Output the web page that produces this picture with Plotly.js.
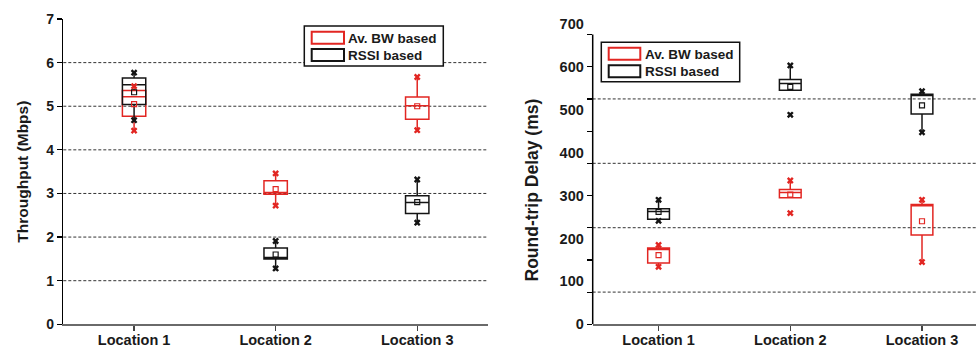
<!DOCTYPE html>
<html>
<head>
<meta charset="utf-8">
<script src="https://cdn.plot.ly/plotly-3.0.1.min.js"></script>
<style>html,body{margin:0;padding:0;background:#fff;}#chart{width:976px;height:349px;}</style>
</head>
<body>
<div id="chart"></div>
<script>
// ---------- data ----------
const categories = ['Location 1', 'Location 2', 'Location 3'];
const seriesNames = ['Av. BW based', 'RSSI based'];

// Throughput (Mbps) - Av. BW based
const thrBwMin  = [4.44, 2.72, 4.45];
const thrBwQ1   = [4.77, 2.98, 4.70];
const thrBwMed  = [5.22, 3.02, 5.01];
const thrBwQ3   = [5.36, 3.29, 5.21];
const thrBwMax  = [5.46, 3.46, 5.67];
const thrBwMean = [5.05, 3.10, 5.00];
const thrBwWLo  = [4.44, 2.72, 4.45];
const thrBwWHi  = [5.46, 3.46, 5.67];

// Throughput (Mbps) - RSSI based
const thrRsMin  = [4.68, 1.28, 2.33];
const thrRsQ1   = [5.04, 1.50, 2.54];
const thrRsMed  = [5.49, 1.53, 2.79];
const thrRsQ3   = [5.65, 1.75, 2.95];
const thrRsMax  = [5.77, 1.91, 3.32];
const thrRsMean = [5.32, 1.60, 2.80];
const thrRsWLo  = [4.68, 1.28, 2.33];
const thrRsWHi  = [5.77, 1.91, 3.32];

// Round-trip delay (ms) - Av. BW based
const rttBwMin  = [134, 259, 145];
const rttBwQ1   = [143, 295, 208];
const rttBwMed  = [174, 307, 276];
const rttBwQ3   = [178, 314, 279];
const rttBwMax  = [185, 335, 290];
const rttBwMean = [161, 302, 240];
const rttBwWLo  = [134, 295, 145];
const rttBwWHi  = [185, 335, 290];

// Round-trip delay (ms) - RSSI based
const rttRsMin  = [241, 488, 447];
const rttRsQ1   = [245, 545, 490];
const rttRsMed  = [263, 561, 533];
const rttRsQ3   = [269, 570, 536];
const rttRsMax  = [290, 603, 543];
const rttRsMean = [262, 553, 510];
const rttRsWLo  = [241, 545, 447];
const rttRsWHi  = [290, 603, 543];

// axis ticks / grid
const thrTickVals = [0, 1, 2, 3, 4, 5, 6, 7];
const thrGridVals = [1, 2, 3, 4, 5, 6];
const rttTickLabels = [0, 100, 200, 300, 400, 500, 600, 700];
const rttTickMarks = [0, 75, 150, 225, 300, 375, 450, 525, 600, 675];
const rttGridVals = [75, 225, 375, 525];

// ---------- styling ----------
const W = 976, H = 349;
const px = v => v / W;
const py = v => (H - v) / H;
const RED = 'rgb(226,38,34)';
const BLK = '#141414';
const FONT = 'Liberation Sans, Arial, Helvetica, sans-serif';

function series(xa, ya, color, d) {
  return [
    {
      type: 'box', x: categories, q1: d.q1, median: d.med, q3: d.q3,
      lowerfence: d.wlo, upperfence: d.whi,
      xaxis: xa, yaxis: ya, boxpoints: false, width: 0.165, whiskerwidth: 0,
      line: {color: color, width: 1.5}, fillcolor: 'rgba(0,0,0,0)',
      showlegend: false, hoverinfo: 'skip'
    },
    {
      type: 'scatter', mode: 'markers', x: categories, y: d.mean,
      xaxis: xa, yaxis: ya, showlegend: false, hoverinfo: 'skip',
      marker: {symbol: 'square-open', size: 5, color: color, line: {width: 1.2, color: color}}
    },
    {
      type: 'scatter', mode: 'markers', x: categories.concat(categories), y: d.min.concat(d.max),
      xaxis: xa, yaxis: ya, showlegend: false, hoverinfo: 'skip',
      marker: {symbol: 'x', size: 6, color: color, line: {width: 0}}
    }
  ];
}

const traces = [].concat(
  series('x', 'y', RED, {q1: thrBwQ1, med: thrBwMed, q3: thrBwQ3, wlo: thrBwWLo, whi: thrBwWHi, mean: thrBwMean, min: thrBwMin, max: thrBwMax}),
  series('x', 'y', BLK, {q1: thrRsQ1, med: thrRsMed, q3: thrRsQ3, wlo: thrRsWLo, whi: thrRsWHi, mean: thrRsMean, min: thrRsMin, max: thrRsMax}),
  series('x2', 'y2', RED, {q1: rttBwQ1, med: rttBwMed, q3: rttBwQ3, wlo: rttBwWLo, whi: rttBwWHi, mean: rttBwMean, min: rttBwMin, max: rttBwMax}),
  series('x2', 'y2', BLK, {q1: rttRsQ1, med: rttRsMed, q3: rttRsQ3, wlo: rttRsWLo, whi: rttRsWHi, mean: rttRsMean, min: rttRsMin, max: rttRsMax}),
  [{type: 'scatter', mode: 'markers', x: [], y: [], xaxis: 'x2', yaxis: 'y3', showlegend: false, hoverinfo: 'skip'}]
);

const tickFontX = {family: FONT, size: 14.5, color: '#1a1a1a', weight: 700};
const xCommon = {
  type: 'category', showline: true, linecolor: '#6a6a6a', linewidth: 1.5,
  ticks: 'outside', ticklen: 5, tickwidth: 1.2, tickcolor: '#444',
  ticklabelstandoff: -3,
  tickfont: tickFontX, showgrid: false, zeroline: false, fixedrange: true
};

const shapes = [];
thrGridVals.forEach(v => shapes.push({type: 'line', xref: 'x domain', x0: 0, x1: 1, yref: 'y', y0: v, y1: v,
  line: {color: '#333', width: 1, dash: '3px,2px'}, layer: 'below'}));
rttGridVals.forEach(v => shapes.push({type: 'line', xref: 'x2 domain', x0: 0, x1: 1, yref: 'y2', y0: v, y1: v,
  line: {color: '#333', width: 1, dash: '3px,2px'}, layer: 'below'}));
// right y-axis line (ends at the last tick mark)
shapes.push({type: 'line', xref: 'x2 domain', x0: 0, x1: 0, yref: 'y2', y0: rttTickMarks[0], y1: rttTickMarks[rttTickMarks.length - 1],
  line: {color: '#000', width: 1.5}});

// legend boxes (left, right)
function legendBox(x0, y0, x1, y1, sw, tx, ty) {
  shapes.push({type: 'rect', xref: 'paper', yref: 'paper', x0: px(x0), x1: px(x1), y0: py(y1), y1: py(y0),
    line: {color: '#111', width: 1.5}, fillcolor: '#fff', layer: 'above'});
  shapes.push({type: 'rect', xref: 'paper', yref: 'paper', x0: px(sw[0]), x1: px(sw[2]), y0: py(sw[1] + sw[3]), y1: py(sw[1]),
    line: {color: RED, width: 2}, fillcolor: 'rgba(0,0,0,0)', layer: 'above'});
  shapes.push({type: 'rect', xref: 'paper', yref: 'paper', x0: px(sw[0]), x1: px(sw[2]), y0: py(sw[4] + sw[3]), y1: py(sw[4]),
    line: {color: BLK, width: 2}, fillcolor: 'rgba(0,0,0,0)', layer: 'above'});
  return [
    {xref: 'paper', yref: 'paper', x: px(tx), y: py(ty[0]), xanchor: 'left', yanchor: 'middle', showarrow: false,
     text: seriesNames[0], font: {family: FONT, size: 13.5, color: '#1a1a1a', weight: 700}},
    {xref: 'paper', yref: 'paper', x: px(tx), y: py(ty[1]), xanchor: 'left', yanchor: 'middle', showarrow: false,
     text: seriesNames[1], font: {family: FONT, size: 13.5, color: '#1a1a1a', weight: 700}}
  ];
}
const annotations = [].concat(
  legendBox(304.3, 26, 443.3, 66, [311.7, 31.7, 344, 12, 49], 346, [38.3, 55.3]),
  legendBox(601.3, 42.3, 739.7, 81.7, [608.7, 47.7, 640.3, 12, 65.3], 642.5, [54, 71.3])
);
// right y-axis title (placed lower than the domain centre, as in the reference)
annotations.push({xref: 'paper', yref: 'paper', x: px(531.5), y: py(190), xanchor: 'center', yanchor: 'middle',
  textangle: -90, showarrow: false, text: 'Round-trip Delay (ms)',
  font: {family: FONT, size: 17.5, color: '#1a1a1a', weight: 700}});

const layout = {
  width: W, height: H,
  margin: {l: 0, r: 0, t: 0, b: 0},
  paper_bgcolor: '#fff', plot_bgcolor: '#fff',
  showlegend: false,
  font: {family: FONT, color: '#1a1a1a'},
  boxmode: 'overlay',
  xaxis: Object.assign({}, xCommon, {domain: [px(63.3), px(488)], anchor: 'y', range: [-0.5, 2.5]}),
  yaxis: {
    domain: [py(324.3), py(19)], anchor: 'x', range: [0, 7],
    tickmode: 'array', tickvals: thrTickVals,
    ticks: 'outside', ticklen: 5, tickwidth: 1.2, tickcolor: '#000',
    tickfont: {family: FONT, size: 14, color: '#1a1a1a', weight: 700},
    showline: true, linecolor: '#000', linewidth: 1.5,
    showgrid: false, zeroline: false, fixedrange: true,
    title: {text: 'Throughput (Mbps)', standoff: 14, font: {family: FONT, size: 15.5, color: '#1a1a1a', weight: 700}}
  },
  xaxis2: Object.assign({}, xCommon, {domain: [px(592.7), 1], anchor: 'y2', range: [-0.5, 2.41]}),
  yaxis2: {
    domain: [py(324.3), py(23.8)], anchor: 'x2', range: [0, 700],
    tickmode: 'array', tickvals: rttTickLabels,
    ticks: 'outside', ticklen: 5, tickcolor: 'rgba(0,0,0,0)',
    tickfont: {family: FONT, size: 14.5, color: '#1a1a1a', weight: 700},
    showline: false, showgrid: false, zeroline: false, fixedrange: true
  },
  yaxis3: {
    overlaying: 'y2', anchor: 'x2', side: 'left', range: [0, 700],
    tickmode: 'array', tickvals: rttTickMarks,
    ticks: 'outside', ticklen: 5, tickwidth: 1.2, tickcolor: '#000',
    showticklabels: false, showline: false, showgrid: false, zeroline: false, fixedrange: true
  },
  shapes: shapes,
  annotations: annotations
};

Plotly.newPlot('chart', traces, layout, {staticPlot: true, displayModeBar: false});
</script>
</body>
</html>
